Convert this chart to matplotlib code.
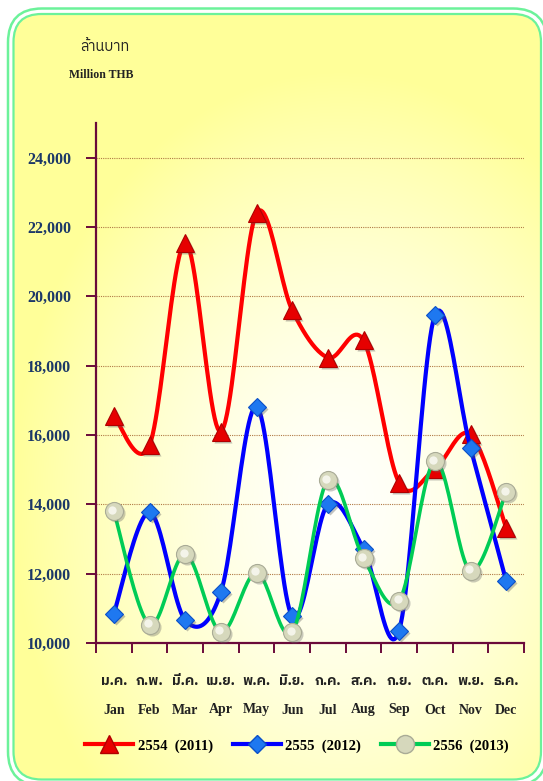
import numpy as np
import matplotlib
matplotlib.use('Agg')
import matplotlib.pyplot as plt
import matplotlib.font_manager as fm
import matplotlib.transforms as mtransforms
from matplotlib.patches import FancyBboxPatch
from matplotlib.lines import Line2D
from matplotlib.ft2font import FT2Font

# data (million THB)
months_th = ['ม.ค.', 'ก.พ.', 'มี.ค.', 'เม.ย.', 'พ.ค.', 'มิ.ย.',
             'ก.ค.', 'ส.ค.', 'ก.ย.', 'ต.ค.', 'พ.ย.', 'ธ.ค.']
months_en = ['Jan', 'Feb', 'Mar', 'Apr', 'May', 'Jun',
             'Jul', 'Aug', 'Sep', 'Oct', 'Nov', 'Dec']
sales_2554 = [16550, 15700, 21550, 16100, 22400, 19600,
              18230, 18730, 14620, 15020, 16020, 13330]
sales_2555 = [10850, 13770, 10660, 11460, 16820, 10770,
              14000, 12720, 10360, 19450, 15630, 11790]
sales_2556 = [13800, 10530, 12560, 10320, 12030, 10310,
              14700, 12450, 11220, 15240, 12080, 14350]
series_labels = ['2554  (2011)', '2555  (2012)', '2556  (2013)']
yticks = [10000, 12000, 14000, 16000, 18000, 20000, 22000, 24000]

W, H = 543, 781
SERIF = 'Liberation Serif'
NAVY = '#1c3868'
MAROON = '#6a0a3a'
GREEN_BORDER = '#6cf29a'


def find_thai_font():
    # pick any installed font that has Thai glyphs
    names = sorted(fm.fontManager.ttflist, key=lambda f: ('Thai' not in f.name, f.name))
    for f in names:
        try:
            if 0x0E01 in FT2Font(f.fname).get_charmap():
                return f.name
        except Exception:
            pass
    return 'DejaVu Sans'


def smooth(x, y, n=24):
    """Excel-like smoothed line (Catmull-Rom as cubic Bezier)."""
    pts = np.column_stack([np.asarray(x, float), np.asarray(y, float)])
    t = np.linspace(0, 1, n)[:, None]
    out = []
    for i in range(len(pts) - 1):
        p0 = pts[max(i - 1, 0)]
        p1 = pts[i]
        p2 = pts[i + 1]
        p3 = pts[min(i + 2, len(pts) - 1)]
        c1 = p1 + (p2 - p0) / 6
        c2 = p2 - (p3 - p1) / 6
        seg = (1 - t) ** 3 * p1 + 3 * (1 - t) ** 2 * t * c1 + 3 * (1 - t) * t ** 2 * c2 + t ** 3 * p2
        out.append(seg if i == 0 else seg[1:])
    pts = np.vstack(out)
    return pts[:, 0], pts[:, 1]


thai_font = find_thai_font()

fig = plt.figure(figsize=(W / 100, H / 100), dpi=100)

# background panel with rounded double green border
bg = fig.add_axes([0, 0, 1, 1], zorder=-5)
bg.set_xlim(0, W)
bg.set_ylim(H, 0)
bg.axis('off')

outer = FancyBboxPatch((8, 8.5), 539, 777,
                       boxstyle='round,pad=0,rounding_size=34',
                       facecolor='white', edgecolor=GREEN_BORDER, lw=1.8)
bg.add_patch(outer)
inner_box = (13.5, 14, 527.5, 765.5)
inner = FancyBboxPatch(inner_box[:2], *inner_box[2:],
                       boxstyle='round,pad=0,rounding_size=28',
                       facecolor='none', edgecolor=GREEN_BORDER, lw=1.6, zorder=3)
bg.add_patch(inner)

yy, xx = np.mgrid[0:H, 0:W]
d = np.sqrt(((xx - 340) / 330.0) ** 2 + ((yy - 500) / 430.0) ** 2)
d = np.clip(d, 0, 1) ** 1.5
yellow = np.array([1.0, 1.0, 0.6])
white = np.array([1.0, 1.0, 0.985])
img = white[None, None, :] * (1 - d[..., None]) + yellow[None, None, :] * d[..., None]
im = bg.imshow(img, extent=(0, W, H, 0), zorder=1, interpolation='bilinear')
clip_box = FancyBboxPatch(inner_box[:2], *inner_box[2:],
                          boxstyle='round,pad=0,rounding_size=28',
                          facecolor='none', edgecolor='none', transform=bg.transData)
im.set_clip_path(clip_box)

# main plot
x0, x1, ytop, ybot = 96, 524, 123, 643
ax = fig.add_axes([x0 / W, 1 - ybot / H, (x1 - x0) / W, (ybot - ytop) / H])
ax.set_facecolor('none')
ax.set_xlim(0.5, 12.5)
ax.set_ylim(10000, 25000)

for s in ['top', 'right']:
    ax.spines[s].set_visible(False)
for s in ['left', 'bottom']:
    ax.spines[s].set_color(MAROON)
    ax.spines[s].set_linewidth(1.6)

ax.set_xticks(np.arange(0.5, 13, 1))
ax.set_xticklabels([])
ax.tick_params(axis='x', length=7, width=1.4, color=MAROON, direction='out')
ax.set_yticks(yticks)
ax.set_yticklabels([f'{v:,}' for v in yticks], fontfamily=SERIF,
                   fontweight='bold', fontsize=11.5, color=NAVY)
ax.tick_params(axis='y', length=7, width=1.4, color=MAROON, direction='out', pad=11)
ax.yaxis.grid(True, linestyle=(0, (1, 1)), color='#b07a45', lw=0.8)
ax.set_axisbelow(True)

trans_x = mtransforms.blended_transform_factory(ax.transData, ax.transAxes)
xs = np.arange(1, 13)
for i in range(12):
    ax.text(xs[i], (ybot - 681) / (ybot - ytop), months_th[i], transform=trans_x,
            ha='center', va='center', fontsize=10, fontweight='bold',
            family=[thai_font, 'DejaVu Sans'], color='#222222')
    ax.text(xs[i], (ybot - 710) / (ybot - ytop), months_en[i], transform=trans_x,
            ha='center', va='center', fontsize=10, fontweight='bold',
            family=SERIF, color='#222222')

shadow = ax.transData + mtransforms.ScaledTranslation(2 / 100, -2 / 100, fig.dpi_scale_trans)
hilite = ax.transData + mtransforms.ScaledTranslation(-1.5 / 100, 1.5 / 100, fig.dpi_scale_trans)

# 2554 red triangles
sx, sy = smooth(xs, sales_2554)
ax.plot(sx, sy, color='#ff0000', lw=3.0, zorder=3, solid_capstyle='round')
ax.plot(xs, sales_2554, ls='none', marker='^', ms=13, color='#555555', alpha=0.35,
        mec='none', transform=shadow, zorder=3.1)
ax.plot(xs, sales_2554, ls='none', marker='^', ms=13, mfc='#e60000', mec='#b00000',
        mew=0.8, zorder=3.2)

# 2555 blue diamonds
sx, sy = smooth(xs, sales_2555)
ax.plot(sx, sy, color='#0000ff', lw=3.0, zorder=4, solid_capstyle='round')
ax.plot(xs, sales_2555, ls='none', marker='D', ms=9, color='#555555', alpha=0.35,
        mec='none', transform=shadow, zorder=4.1)
ax.plot(xs, sales_2555, ls='none', marker='D', ms=9, mfc='#1e78f0', mec='#0b50c8',
        mew=0.8, zorder=4.2)

# 2556 green with pearl markers
sx, sy = smooth(xs, sales_2556)
ax.plot(sx, sy, color='#00cc55', lw=2.6, zorder=5, solid_capstyle='round')
ax.plot(xs, sales_2556, ls='none', marker='o', ms=13, color='#666666', alpha=0.35,
        mec='none', transform=shadow, zorder=5.1)
ax.plot(xs, sales_2556, ls='none', marker='o', ms=13, mfc='#d6d8bc', mec='#a9ab96',
        mew=0.8, zorder=5.2)
ax.plot(xs, sales_2556, ls='none', marker='o', ms=6, mfc='#f4f4ea', mec='none',
        transform=hilite, zorder=5.3)

# unit labels
fig.text(80 / W, 1 - 47 / H, 'ล้านบาท', family=[thai_font, 'DejaVu Sans'],
         fontsize=10.5, color='#222222', ha='left', va='center')
fig.text(69 / W, 1 - 75 / H, 'Million THB', family=SERIF, fontweight='bold',
         fontsize=8.5, color='#222222', ha='left', va='center')

# legend
handles = [
    Line2D([], [], color='#ff0000', lw=3, marker='^', ms=13, mfc='#e60000', mec='#b00000'),
    Line2D([], [], color='#0000ff', lw=3, marker='D', ms=9, mfc='#1e78f0', mec='#0b50c8'),
    Line2D([], [], color='#00cc55', lw=3, marker='o', ms=13, mfc='#d6d8bc', mec='#a9ab96'),
]
fig.legend(handles, series_labels, loc='center', bbox_to_anchor=(0.547, 1 - 746 / H),
           ncol=3, frameon=False, handlelength=3.3, handletextpad=0.3, columnspacing=1.35,
           prop={'family': SERIF, 'weight': 'bold', 'size': 10.5})

fig.savefig('out.png', dpi=100)
